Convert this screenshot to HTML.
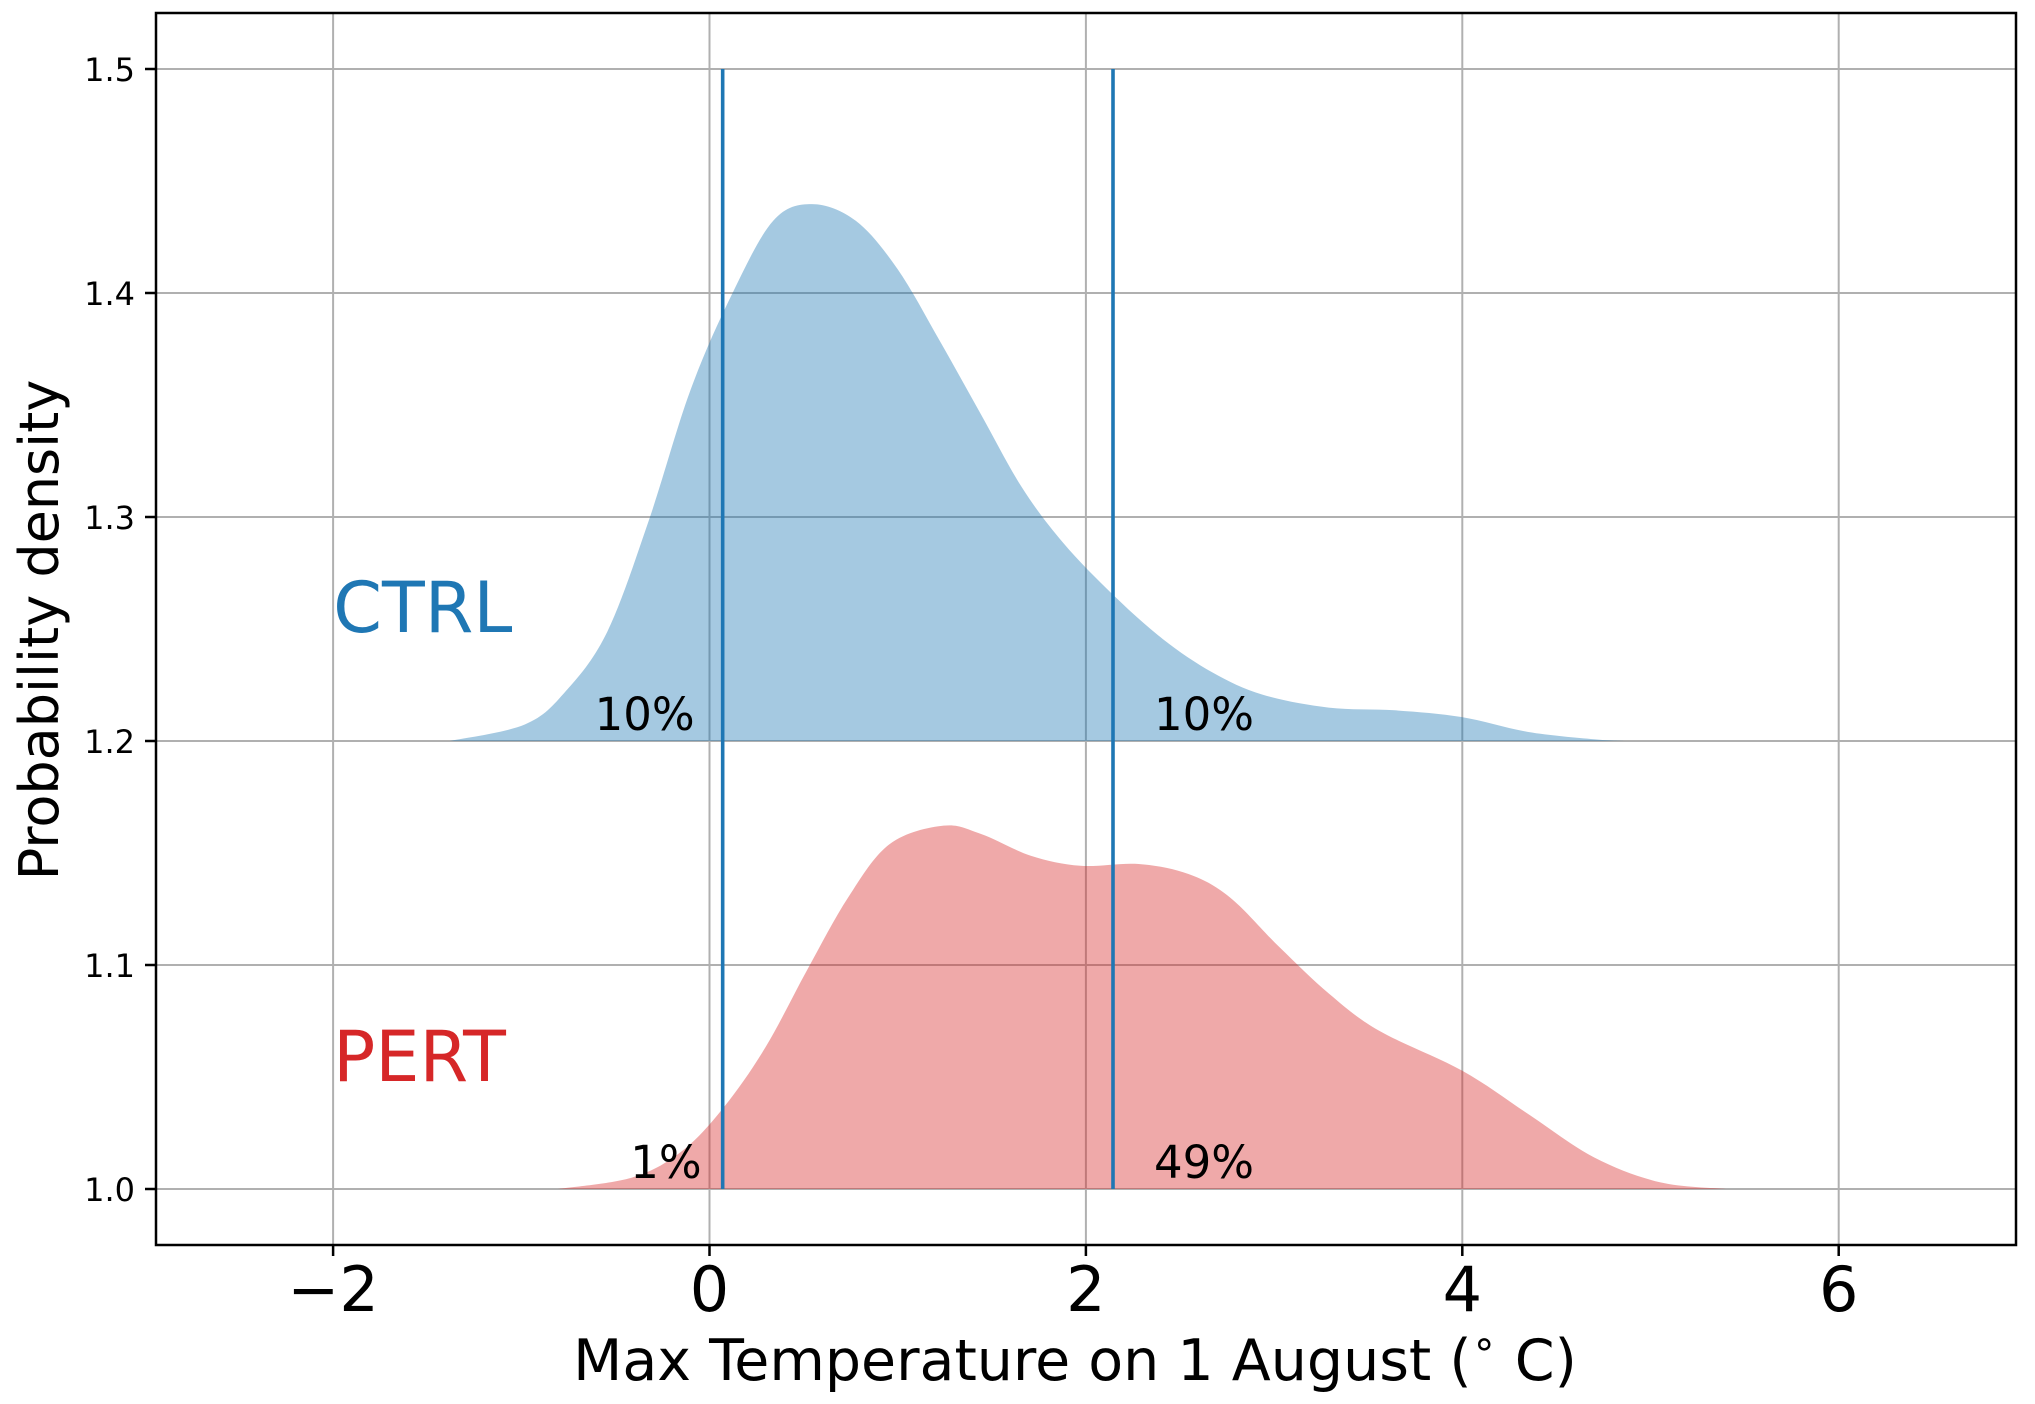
<!DOCTYPE html>
<html><head><meta charset="utf-8"><style>
html,body{margin:0;padding:0;background:#fff;}
svg{display:block;font-family:"DejaVu Sans","Liberation Sans",sans-serif;}
</style></head><body>
<svg id="chart" width="2035" height="1404" viewBox="0 0 2035 1404" xmlns="http://www.w3.org/2000/svg">
<rect width="2035" height="1404" fill="#fff"/>
<g id="grid"></g>
<g id="fills"></g>
<g id="vlines"></g>
<g id="labels"></g>
<rect x="156" y="13" width="1860" height="1232" fill="none" stroke="#000" stroke-width="2.5"/>
<g id="ticks"></g>
<text x="1075" y="1380" font-size="57" text-anchor="middle">Max Temperature on 1 August (<tspan font-size="40" dy="-23">∘</tspan><tspan dy="23"> C)</tspan></text>
<text transform="translate(58,630) rotate(-90)" font-size="54" text-anchor="middle">Probability density</text>
</svg>
<script>
const xTicks = [-2, 0, 2, 4, 6];
const xTickLabels = ["\u22122", "0", "2", "4", "6"];
const yTicks = [1.0, 1.1, 1.2, 1.3, 1.4, 1.5];
const yTickLabels = ["1.0", "1.1", "1.2", "1.3", "1.4", "1.5"];
const ctrlX = [-1.38,-0.98,-0.763,-0.543,-0.323,-0.103,0.118,0.338,0.545,0.778,0.999,1.219,1.439,1.66,1.88,2.144,2.409,2.673,2.938,3.29,3.642,3.995,4.347,4.699,4.87];
const ctrlY = [1.2,1.2074,1.2223,1.2488,1.2983,1.3562,1.3992,1.4322,1.4397,1.4322,1.4107,1.3793,1.3463,1.3132,1.2884,1.2653,1.2455,1.2306,1.2207,1.2149,1.2137,1.2107,1.2041,1.2008,1.2];
const pertX = [-0.805,-0.408,-0.144,0.076,0.297,0.517,0.737,0.958,1.244,1.443,1.707,1.971,2.28,2.545,2.765,3.029,3.293,3.557,4.0,4.35,4.7,5.05,5.4];
const pertY = [1.0,1.0052,1.0171,1.0365,1.0632,1.0975,1.1302,1.154,1.1622,1.1585,1.1488,1.1443,1.1451,1.1406,1.1302,1.1079,1.0871,1.0707,1.0528,1.0335,1.0141,1.003,1.0];
const ctrlBase = 1.2, pertBase = 1.0;
const percentiles = [0.07, 2.144];
const ctrlPct = ["10%", "10%"];
const pertPct = ["1%", "49%"];

const NS = "http://www.w3.org/2000/svg";
function sx(v){ return 709.5 + v*188.2; }
function sy(v){ return 1189 - (v-1.0)*2240; }
function mk(tag, attrs, parent){ const e=document.createElementNS(NS,tag); for(const k in attrs) e.setAttribute(k,attrs[k]); parent.appendChild(e); return e; }
const grid=document.getElementById('grid'), ticks=document.getElementById('ticks');
xTicks.forEach((t,i)=>{
  const l=mk('line',{x1:sx(t),x2:sx(t),y1:13,y2:1245,stroke:'#b0b0b0','stroke-width':2},grid);
  
  
  const tk=mk('line',{x1:sx(t),x2:sx(t),y1:1245,y2:1256,stroke:'#000','stroke-width':2.5},ticks);
  
  
  const tx=mk('text',{x:sx(t),y:1311,'font-size':62,'text-anchor':'middle'},ticks);
  tx.textContent=xTickLabels[i];
  
  
});
yTicks.forEach((t,i)=>{
  const l=mk('line',{x1:156,x2:2016,y1:sy(t),y2:sy(t),stroke:'#b0b0b0','stroke-width':2},grid);
  
  
  const tk=mk('line',{x1:145,x2:156,y1:sy(t),y2:sy(t),stroke:'#000','stroke-width':2.5},ticks);
  
  
  const tx=mk('text',{x:135,y:sy(t)+12,'font-size':32,'text-anchor':'end'},ticks);
  tx.textContent=yTickLabels[i];
  
  
});
function smooth(xs, ys){
  const p=xs.map((x,i)=>[sx(x),sy(ys[i])]);
  let d='M'+p[0][0]+','+p[0][1];
  for(let i=0;i<p.length-1;i++){
    const p0=p[Math.max(0,i-1)],p1=p[i],p2=p[i+1],p3=p[Math.min(p.length-1,i+2)];
    const c1=[p1[0]+(p2[0]-p0[0])/6,p1[1]+(p2[1]-p0[1])/6];
    const c2=[p2[0]-(p3[0]-p1[0])/6,p2[1]-(p3[1]-p1[1])/6];
    d+=' C'+c1+' '+c2+' '+p2;
  }
  return d;
}
const fills=document.getElementById('fills');
const cf=mk('path',{d:smooth(ctrlX,ctrlY)+' L'+sx(ctrlX[ctrlX.length-1])+','+sy(ctrlBase)+' L'+sx(ctrlX[0])+','+sy(ctrlBase)+'Z',fill:'#1f77b4','fill-opacity':0.4},fills);


const pf=mk('path',{d:smooth(pertX,pertY)+' L'+sx(pertX[pertX.length-1])+','+sy(pertBase)+' L'+sx(pertX[0])+','+sy(pertBase)+'Z',fill:'#d62728','fill-opacity':0.4},fills);


const vl=document.getElementById('vlines');
percentiles.forEach(p=>{
  const l=mk('line',{x1:sx(p),x2:sx(p),y1:sy(1.0),y2:sy(1.5),stroke:'#1f77b4','stroke-width':3.6},vl);
  
  
});
const lb=document.getElementById('labels');
function lab(txt,x,y,anchor,size,color,name){
  const t=mk('text',{x:x,y:y,'text-anchor':anchor,'font-size':size,fill:color},lb);
  t.textContent=txt;
  
  
}
lab(ctrlPct[0],sx(percentiles[0])-28,sy(ctrlBase)-11,'end',45,'#000','ctrl-lower-pct');
lab(ctrlPct[1],sx(percentiles[1])+41,sy(ctrlBase)-11,'start',45,'#000','ctrl-upper-pct');
lab(pertPct[0],sx(percentiles[0])-21,sy(pertBase)-11,'end',45,'#000','pert-lower-pct');
lab(pertPct[1],sx(percentiles[1])+41,sy(pertBase)-11,'start',45,'#000','pert-upper-pct');
lab('CTRL',sx(-2),632,'start',70,'#1f77b4','ctrl-label');
lab('PERT',sx(-2),1081,'start',70,'#d62728','pert-label');
</script>
</body></html>
